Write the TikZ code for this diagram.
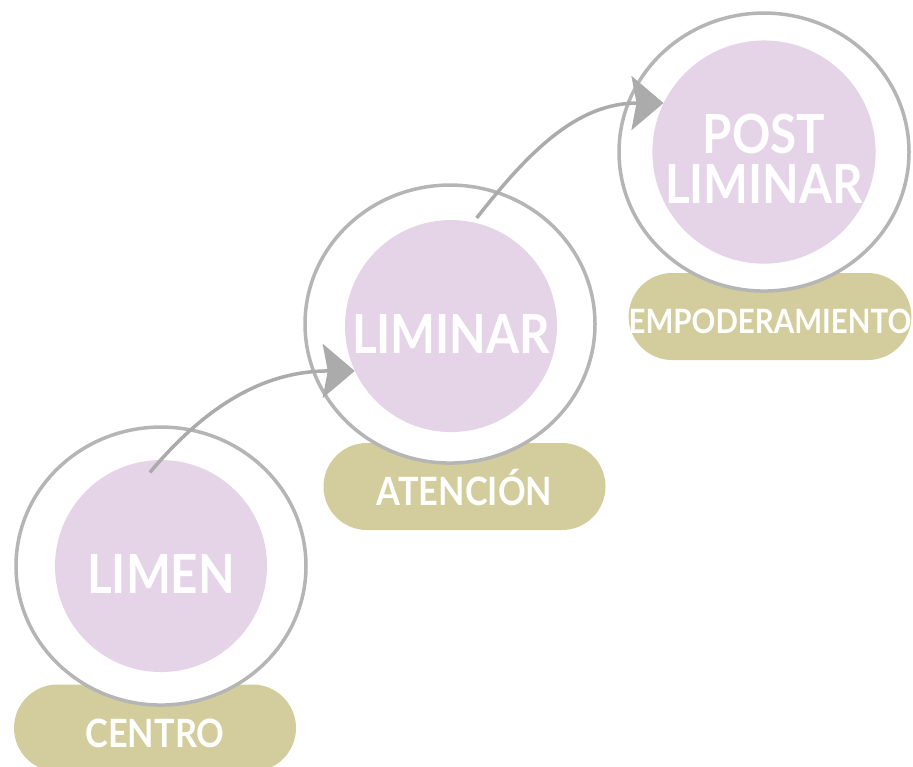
\documentclass[tikz,border=0pt]{standalone}
\usepackage{fontspec}
\newfontfamily\stagefont{Lato}[FakeStretch=0.88]
\usetikzlibrary{positioning,arrows.meta,shapes.geometric,calc}
\definecolor{ringgray}{HTML}{B5B5B5}
\definecolor{arrowgray}{HTML}{ABABAB}
\definecolor{stagepink}{HTML}{E5D3E7}
\definecolor{pillkhaki}{HTML}{D3CC9C}

\begin{document}
\begin{tikzpicture}[x=1pt,y=-1pt,
  ring/.style={ellipse, draw=ringgray, line width=3.5pt, fill=white, minimum width=290pt, minimum height=278pt, inner sep=0pt},
  stage/.style={circle, fill=stagepink, minimum size=212pt, inner sep=0pt, text=white, font=\stagefont\bfseries\fontsize{54}{50}\selectfont, text height=55pt, text depth=0pt},
  pill/.style={rectangle, rounded corners=43.5pt, fill=pillkhaki, minimum width=282pt, minimum height=87pt, inner sep=0pt, text=white, font=\stagefont\bfseries\fontsize{39}{39}\selectfont, text height=38pt, text depth=0pt},
  flow/.style={draw=arrowgray, line width=3.5pt, -{Stealth[length=32pt,width=54pt,inset=5pt]}}]
\useasboundingbox (0,0) rectangle (913,766);
% labels under the rings
\node[pill] (centro) at (155,728) {CENTRO};
\node[pill] (atencion) at (464.5,486.5) {ATENCIÓN};
\node[pill, font=\stagefont\bfseries\fontsize{33.5}{33.5}\selectfont, text height=34pt] (empoderamiento) at (770,316.5) {EMPODERAMIENTO};
% rings
\node[ring] (limen ring) [above=-22.5pt of centro, xshift=6pt] {};
\node[ring] (liminar ring) [above=-22pt of atencion, xshift=-14.5pt] {};
\node[ring] (post ring) [above=-20pt of empoderamiento, xshift=-6pt] {};
% stages
\node[stage] (limen) at (limen ring) {LIMEN};
\node[stage] (liminar) at ([shift={(1,2)}]liminar ring) {LIMINAR};
\node[stage, align=center, text height=103pt] (post) at (post ring) {POST\\LIMINAR};
% arrows
\draw[flow] ([yshift=-12pt]limen.96) to[out=50, in=180] (liminar.205);
\draw[flow] ([yshift=5pt]liminar.76) to[out=52, in=180] (post.154);
\end{tikzpicture}
\end{document}
